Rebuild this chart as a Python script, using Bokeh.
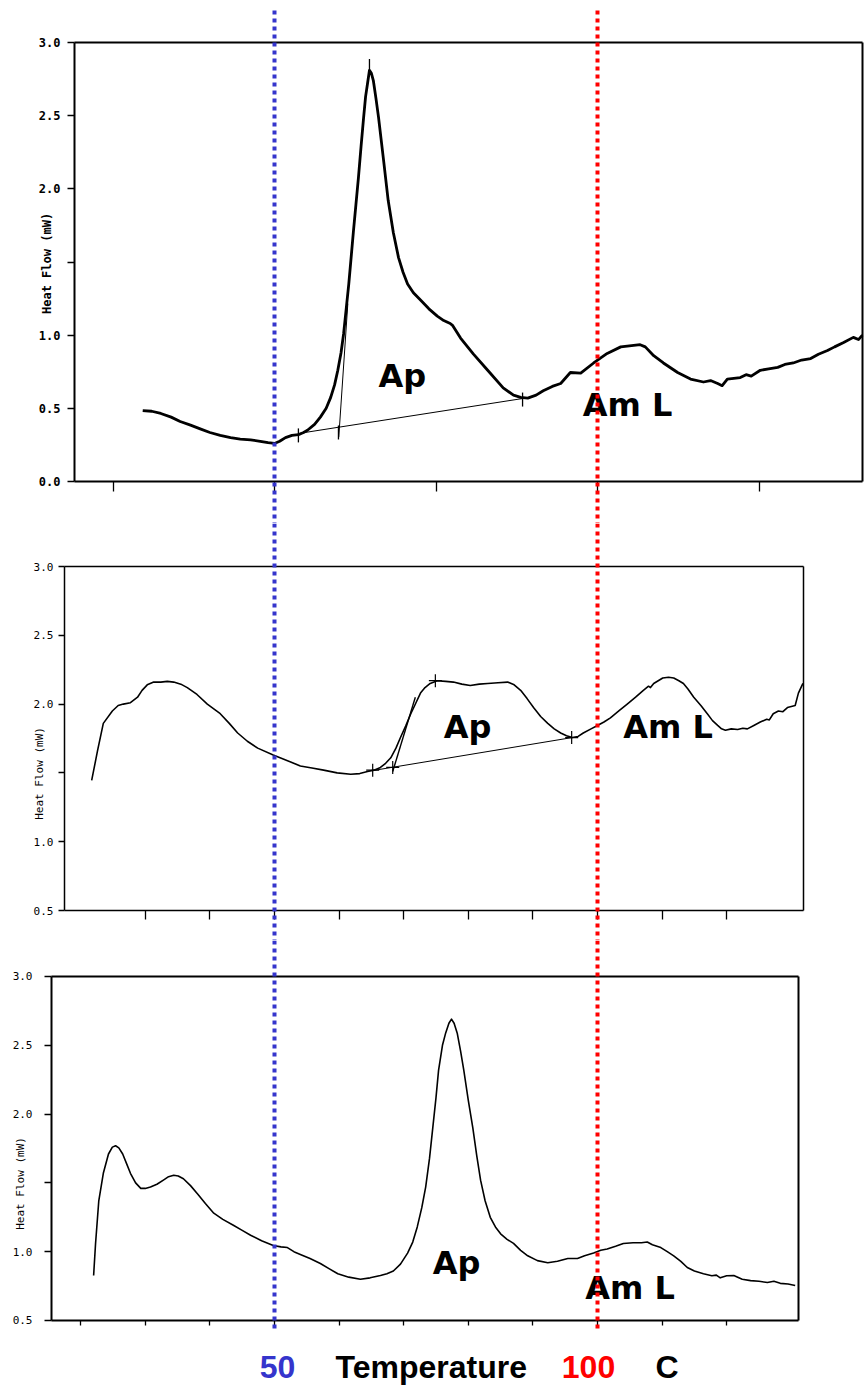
import math
from bokeh.plotting import figure
from bokeh.layouts import column
from bokeh.models import (Range1d, FixedTicker, PrintfTickFormatter, Arrow, Label,
                          LinearAxis)
from bokeh.embed import file_html
from bokeh.resources import INLINE

# ---------------- data: temperature (C) and heat flow (mW) ----------------
P1_T = [29.6, 31.0, 32.4, 34.0, 35.4, 37.0, 38.5, 40.0, 41.6, 43.2, 44.7, 46.3, 47.8, 49.0, 50.0,
        50.8, 51.7, 52.7, 53.7, 54.5, 55.1, 56.2, 57.1, 58.0, 58.7, 59.3, 59.8, 60.3, 60.7, 61.1,
        61.5, 62.2, 62.6, 63.0, 63.4, 63.8, 64.1, 64.4, 64.7, 65.0, 65.3, 65.7, 66.1, 66.5, 66.9,
        67.6, 68.4, 69.2, 69.9, 70.6, 71.5, 72.6, 73.9, 75.2, 76.2, 77.2, 77.6, 78.8, 80.8, 83.0,
        85.4, 87.0, 88.1, 89.2, 90.5, 91.6, 93.0, 94.3, 95.8, 97.4, 99.4, 101.5, 103.6, 105.6,
        106.6, 107.4, 108.7, 110.2, 112.4, 114.4, 116.4, 117.5, 118.6, 119.3, 120.1, 122.1, 123.0,
        123.8, 125.2, 126.5, 127.9, 129.0, 130.3, 131.6, 133.0, 134.2, 135.6, 136.7, 138.1, 139.6,
        140.4, 141.0]
P1_HF = [0.485, 0.48, 0.465, 0.44, 0.41, 0.385, 0.36, 0.335, 0.315, 0.30, 0.29, 0.285, 0.275, 0.265, 0.26,
         0.275, 0.30, 0.315, 0.32, 0.335, 0.35, 0.39, 0.44, 0.50, 0.575, 0.66, 0.76, 0.88, 1.01, 1.18,
         1.35, 1.70, 1.89, 2.08, 2.29, 2.49, 2.63, 2.72, 2.81, 2.79, 2.74, 2.62, 2.49, 2.34, 2.19,
         1.92, 1.70, 1.53, 1.43, 1.35, 1.29, 1.24, 1.18, 1.13, 1.10, 1.08, 1.065, 0.98, 0.87, 0.76,
         0.64, 0.59, 0.575, 0.57, 0.59, 0.62, 0.65, 0.67, 0.745, 0.74, 0.81, 0.875, 0.92, 0.93,
         0.935, 0.92, 0.86, 0.81, 0.745, 0.70, 0.68, 0.69, 0.67, 0.655, 0.70, 0.71, 0.73,
         0.72, 0.76, 0.77, 0.78, 0.80, 0.81, 0.83, 0.84, 0.87, 0.895, 0.92, 0.95, 0.985,
         0.97, 1.0]

P2_T = [21.7, 22.6, 23.5, 24.9, 25.8, 26.6, 27.7, 28.8, 29.5, 30.3, 31.3, 32.4, 33.4, 34.4, 35.5,
        36.5, 38.0, 39.6, 41.6, 43.0, 44.3, 45.8, 47.4, 49.8, 52.5, 54.0, 55.8, 57.6, 59.7, 61.8,
        63.2, 64.4, 65.4, 66.4, 67.2, 68.0, 68.8, 69.5, 70.3, 71.1, 71.9, 72.6, 73.3, 74.1, 75.2,
        76.5, 77.7, 79.0, 80.3, 81.7, 83.0, 84.6, 86.1, 87.1, 88.1, 89.1, 90.1, 91.2, 92.3, 93.3,
        94.3, 95.2, 96.1, 97.0, 97.8, 99.0, 100.0, 101.0, 102.0, 103.3, 104.6, 105.9, 107.1, 107.9,
        108.2, 108.7, 110.1, 111.0, 111.8, 112.6, 113.3, 114.0, 114.9, 116.0, 117.0, 117.8, 118.6,
        119.2, 119.8, 120.7, 121.7, 122.5, 123.2, 124.2, 125.2, 126.2, 126.6, 127.2, 128.0, 128.7,
        129.4, 130.6, 131.1, 131.8]
P2_HF = [1.445, 1.66, 1.86, 1.95, 1.99, 2.00, 2.01, 2.05, 2.10, 2.14, 2.16, 2.16, 2.165, 2.16, 2.145,
         2.12, 2.07, 2.00, 1.93, 1.86, 1.79, 1.73, 1.68, 1.63, 1.58, 1.55, 1.535, 1.52, 1.50, 1.49,
         1.495, 1.51, 1.52, 1.54, 1.57, 1.61, 1.68, 1.757, 1.84, 1.93, 2.01, 2.08, 2.12, 2.15, 2.17,
         2.165, 2.16, 2.145, 2.135, 2.145, 2.15, 2.155, 2.16, 2.14, 2.10, 2.04, 1.975, 1.91, 1.86, 1.82,
         1.79, 1.77, 1.757, 1.765, 1.79, 1.82, 1.845, 1.87, 1.90, 1.95, 2.00, 2.05, 2.10, 2.13,
         2.12, 2.15, 2.19, 2.195, 2.19, 2.17, 2.15, 2.11, 2.05, 1.99, 1.93, 1.88, 1.845,
         1.82, 1.81, 1.82, 1.815, 1.825, 1.82, 1.845, 1.87, 1.89, 1.885, 1.93, 1.95, 1.945,
         1.975, 1.99, 2.08, 2.15]

P3_T = [22.0, 22.3, 22.8, 23.5, 24.3, 24.9, 25.4, 25.9, 26.5, 27.1, 27.7, 28.5, 29.3, 30.0, 30.8,
        31.8, 32.8, 33.6, 34.4, 35.1, 35.9, 37.0, 38.1, 39.3, 40.6, 42.0, 43.7, 45.0, 46.3, 48.0,
        49.8, 51.0, 52.0, 53.0, 54.0, 55.5, 57.1, 58.5, 59.8, 61.5, 63.3, 64.8, 66.4, 67.4, 68.4,
        69.5, 70.6, 71.4, 72.1, 72.8, 73.4, 74.0, 74.5, 75.0, 75.4, 76.0, 76.5, 77.0, 77.4, 77.8,
        78.3, 78.8, 79.3, 80.0, 80.7, 81.3, 81.9, 82.6, 83.4, 84.2, 85.0, 86.0, 87.0, 88.1, 89.2,
        90.7, 92.3, 93.8, 95.4, 96.9, 98.0, 99.4, 100.5, 101.5, 102.8, 104.0, 105.5, 106.8, 107.7,
        108.5, 109.8, 110.8, 111.8, 112.9, 113.9, 115.0, 116.4, 117.7, 118.4, 119.0, 120.0, 121.1,
        122.4, 123.7, 125.0, 126.3, 127.3, 128.3, 129.5, 130.6]
P3_HF = [0.827, 1.06, 1.37, 1.57, 1.71, 1.76, 1.77, 1.755, 1.71, 1.64, 1.57, 1.50, 1.46, 1.46, 1.47,
         1.49, 1.52, 1.545, 1.555, 1.55, 1.53, 1.48, 1.42, 1.35, 1.28, 1.235, 1.19, 1.155, 1.12, 1.08,
         1.045, 1.035, 1.03, 1.00, 0.98, 0.95, 0.914, 0.875, 0.84, 0.815, 0.80, 0.81, 0.827, 0.84, 0.86,
         0.91, 0.99, 1.07, 1.18, 1.32, 1.47, 1.68, 1.90, 2.12, 2.32, 2.50, 2.59, 2.66, 2.69, 2.66,
         2.585, 2.46, 2.32, 2.10, 1.90, 1.70, 1.52, 1.37, 1.25, 1.18, 1.13, 1.09, 1.06, 1.01, 0.97,
         0.935, 0.92, 0.93, 0.95, 0.95, 0.97, 0.99, 1.01, 1.02, 1.04, 1.06, 1.065, 1.065, 1.07,
         1.05, 1.03, 1.00, 0.97, 0.93, 0.885, 0.86, 0.84, 0.825, 0.83, 0.81, 0.825, 0.827,
         0.80, 0.79, 0.785, 0.776, 0.785, 0.77, 0.765, 0.754]

# peak-integration construction: baseline ends, onset tangent, markers
P1_BASE_T, P1_BASE_HF = [53.7, 88.4], [0.328, 0.567]
P1_TAN_T, P1_TAN_HF = [59.95, 61.35], [0.303, 1.215]
P1_MARK_T, P1_MARK_HF = [53.7, 59.9, 88.4, 64.7], [0.315, 0.335, 0.56, 2.84]

P2_BASE_T, P2_BASE_HF = [65.2, 96.1], [1.517, 1.757]
P2_TAN_T, P2_TAN_HF = [68.3, 71.8], [1.51, 2.05]
P2_MARK_T, P2_MARK_HF = [65.2, 68.3, 74.9, 96.0], [1.52, 1.54, 2.17, 1.757]

# axis ticks
Y_TICKS_1 = [0.0, 0.5, 1.0, 1.5, 2.0, 2.5, 3.0]
Y_TICKS_23 = [0.5, 1.0, 1.5, 2.0, 2.5, 3.0]
X_TICKS_1 = [25, 50, 75, 100, 125]
X_TICKS_2 = [30, 40, 50, 60, 70, 80, 90, 100, 110, 120]
X_TICKS_3 = [20, 30, 40, 50, 60, 70, 80, 90, 100, 110, 120]

# reference temperatures marked across all panels
T_LOW, T_HIGH = 50, 100
BLUE, RED = "#3535cc", "#ff0000"

# shared temperature window of the whole page, so the guide lines stay straight
T_VIEW = (7.585, 141.331)

MONO = "DejaVu Sans Mono"
TAG_FONT = "DejaVu Sans"


def make_panel(height, y_view, box_t, box_hf, xticks, yticks, x_tick_out, y_tick_out,
               frame_w, label_style, label_size, label_standoff, ylabel_pos):
    p = figure(width=864, height=height, x_range=Range1d(*T_VIEW), y_range=Range1d(*y_view),
               output_backend="svg", toolbar_location=None, title=None,
               x_axis_type=None, y_axis_type=None, min_border=0,
               min_border_left=0, min_border_right=0, min_border_top=0, min_border_bottom=0,
               background_fill_color="white", border_fill_color="white")
    p.grid.visible = False
    p.outline_line_color = None
    t0, t1 = box_t
    h0, h1 = box_hf

    yax = LinearAxis(fixed_location=t0, bounds=(h0, h1),
                     ticker=FixedTicker(ticks=yticks, minor_ticks=[]),
                     formatter=PrintfTickFormatter(format="%.1f"),
                     major_label_overrides={1.5: ""},
                     major_tick_out=y_tick_out, major_tick_in=0, major_tick_line_width=1.5,
                     axis_line_width=frame_w, major_label_standoff=label_standoff,
                     major_label_text_font=MONO, major_label_text_font_style=label_style,
                     major_label_text_font_size=label_size, major_label_text_color="black")
    p.add_layout(yax, "left")

    xax = LinearAxis(fixed_location=h0, bounds=(t0, t1),
                     ticker=FixedTicker(ticks=xticks, minor_ticks=[]),
                     major_label_overrides={t: "" for t in xticks},
                     major_tick_out=x_tick_out, major_tick_in=0, major_tick_line_width=1.3,
                     axis_line_width=frame_w)
    p.add_layout(xax, "below")

    top = LinearAxis(fixed_location=h1, bounds=(t0, t1), ticker=FixedTicker(ticks=[]),
                     major_tick_out=0, major_tick_in=0, axis_line_width=frame_w)
    p.add_layout(top, "above")
    right = LinearAxis(fixed_location=t1, bounds=(h0, h1), ticker=FixedTicker(ticks=[]),
                       major_tick_out=0, major_tick_in=0, axis_line_width=frame_w)
    p.add_layout(right, "right")

    p.add_layout(Label(x=ylabel_pos[0], y=ylabel_pos[1], text="Heat Flow (mW)", angle=math.pi / 2,
                       text_font=MONO, text_font_style=label_style, text_font_size=label_size,
                       text_color="black", text_align="center", text_baseline="middle"))
    return p


def add_tag(p, text, t, hf):
    p.add_layout(Label(x=t, y=hf, text=text, text_font=TAG_FONT, text_font_style="bold",
                       text_font_size="32px", text_color="black",
                       text_align="left", text_baseline="alphabetic"))


def add_guides(p, y_top, y_bottom):
    for t, c in ((T_LOW, BLUE), (T_HIGH, RED)):
        p.add_layout(Arrow(end=None, x_start=t, y_start=y_top, x_end=t, y_end=y_bottom,
                           line_color=c, line_width=4, line_dash="4 4"))


# ---------------- panel 1 ----------------
p1 = make_panel(523, (-0.2870, 3.2871), (19.04, 141.02), (0.0, 3.0), X_TICKS_1, Y_TICKS_1,
                10, 7, 2, "bold", "12px", 7, (14.78, 1.49))
p1.line(P1_T, P1_HF, line_color="black", line_width=2.8, line_join="round")
p1.line(P1_BASE_T, P1_BASE_HF, line_color="black", line_width=1)
p1.line(P1_TAN_T, P1_TAN_HF, line_color="black", line_width=1)
p1.scatter(P1_MARK_T, P1_MARK_HF, marker="dash", angle=math.pi / 2, size=14,
           line_color="black", line_width=1.3)
add_tag(p1, "Ap", 66.1, 0.718)
add_tag(p1, "Am L", 97.7, 0.52)
add_guides(p1, 3.2187, -0.2870)

# ---------------- panel 2 ----------------
p2 = make_panel(417, (0.2820, 3.3125), (17.49, 131.89), (0.5, 3.0), X_TICKS_2, Y_TICKS_23,
                9, 6, 1.5, "normal", "11px", 5, (13.62, 1.496))
p2.line(P2_T, P2_HF, line_color="black", line_width=1.6, line_join="round")
p2.line(P2_BASE_T, P2_BASE_HF, line_color="black", line_width=1)
p2.line(P2_TAN_T, P2_TAN_HF, line_color="black", line_width=1.4)
p2.scatter(P2_MARK_T, P2_MARK_HF, marker="cross", size=13, line_color="black", line_width=1.2)
add_tag(p2, "Ap", 76.2, 1.837)
add_tag(p2, "Am L", 104.0, 1.83)
add_guides(p2, 3.3125, 0.2820)

# ---------------- panel 3 ----------------
p3 = make_panel(449, (-0.0015, 3.2616), (15.48, 131.11), (0.5, 3.0), X_TICKS_3, Y_TICKS_23,
                5, 7, 2, "normal", "11px", 12, (10.68, 1.496))
p3.line(P3_T, P3_HF, line_color="black", line_width=1.6, line_join="round")
add_tag(p3, "Ap", 74.5, 0.917)
add_tag(p3, "Am L", 98.1, 0.735)
add_guides(p3, 3.2616, 0.4273)

# temperature annotation under the stack
for text, t, color, align, dx in (("50", T_LOW, BLUE, "center", 3),
                                  ("100", T_HIGH, RED, "center", -9),
                                  ("Temperature", 59.44, "black", "left", 0),
                                  ("C", 108.98, "black", "left", 0)):
    p3.add_layout(Label(x=t, y=0.1585, x_offset=dx, text=text, text_font="Liberation Sans",
                        text_font_style="bold", text_font_size="32px", text_color=color,
                        text_align=align, text_baseline="alphabetic"))

layout = column(p1, p2, p3, spacing=0)
open("out.html", "w").write(file_html(layout, INLINE))
